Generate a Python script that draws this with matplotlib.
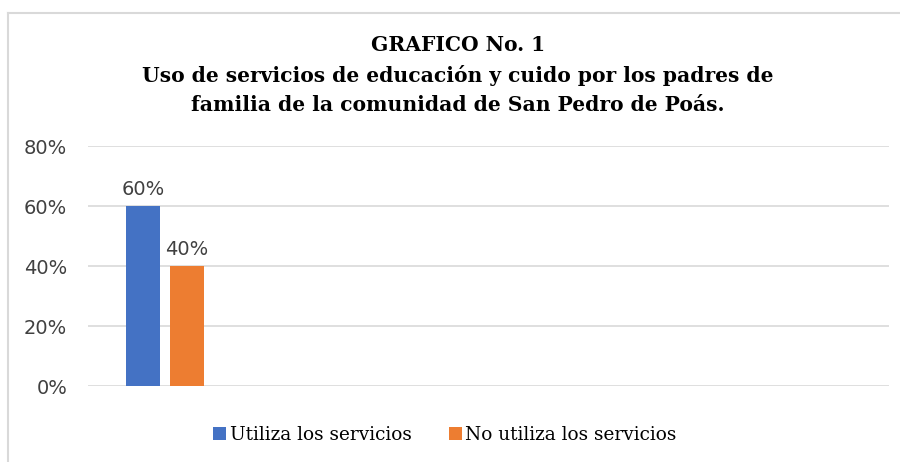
import matplotlib
matplotlib.use("Agg")
import matplotlib.pyplot as plt
from matplotlib.lines import Line2D
from matplotlib.ticker import FuncFormatter

series = ["Utiliza los servicios", "No utiliza los servicios"]
values = [0.60, 0.40]
colors = ["#4472C4", "#ED7D31"]
yticks = [0, 0.2, 0.4, 0.6, 0.8]
title_lines = ["GRAFICO No. 1",
               "Uso de servicios de educación y cuido por los padres de",
               "familia de la comunidad de San Pedro de Poás."]

W, H = 900, 462
fig = plt.figure(figsize=(W/100, H/100), dpi=100)
fig.patch.set_facecolor("white")

# chart frame (left and top edges visible)
fx, fy = 7.5/W, 1 - 12.5/H
fig.add_artist(Line2D([fx, fx], [0, fy], transform=fig.transFigure,
                      color="#d9d9d9", linewidth=1.5))
fig.add_artist(Line2D([fx, 1.0], [fy, fy], transform=fig.transFigure,
                      color="#d9d9d9", linewidth=1.5))

ax = fig.add_axes([88/W, 1 - 386/H, (889-88)/W, (386-146)/H])
ax.set_ylim(0, 0.8)
ax.set_xlim(-0.497, 4.503)
width = 0.215
offsets = [-0.155, 0.12]
for v, c, o, s in zip(values, colors, offsets, series):
    ax.bar(o, v, width=width, color=c, label=s, zorder=3)
    ax.text(o, v + 0.025, f"{v*100:.0f}%", ha="center", va="bottom",
            fontsize=14, family="DejaVu Sans", color="#404040")

ax.set_yticks(yticks)
ax.yaxis.set_major_formatter(FuncFormatter(lambda y, p: f"{y*100:.0f}%"))
ax.tick_params(axis="y", length=0, pad=15, labelsize=14, labelcolor="#404040")
for lab in ax.get_yticklabels():
    lab.set_family("DejaVu Sans")
ax.set_xticks([])
ax.grid(axis="y", color="#d9d9d9", linewidth=1.2, zorder=0)
for sp in ax.spines.values():
    sp.set_visible(False)

ys = [45, 75, 105]
for t, y in zip(title_lines, ys):
    fig.text(458/W, 1 - y/H, t, ha="center", va="center", fontsize=14.6,
             fontweight="bold", family="DejaVu Serif", color="#000000")

leg = fig.legend(loc="center", bbox_to_anchor=(445/W, 1 - 435/H), ncol=2, frameon=False,
                 prop={"family": "DejaVu Serif", "size": 13.3},
                 handlelength=0.7, handleheight=0.7, handletextpad=0.2, columnspacing=2.0)
for t in leg.get_texts():
    t.set_color("#000000")

fig.savefig("out.png", dpi=100)
